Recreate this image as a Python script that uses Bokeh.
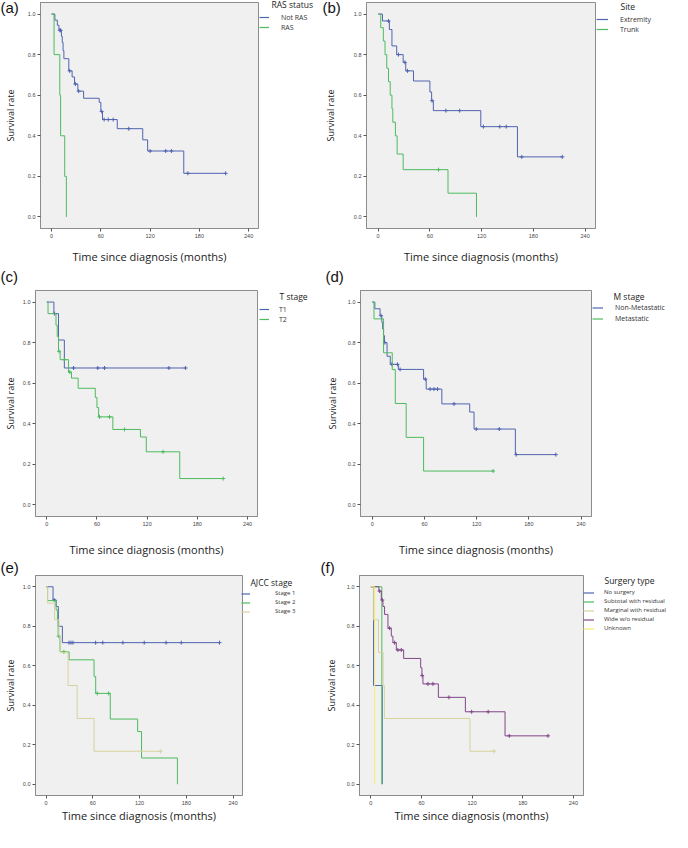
import numpy as np
from bokeh.plotting import figure
from bokeh.models import Label, Legend, LegendItem, FixedTicker, PrintfTickFormatter, Range1d
from bokeh.layouts import row, column
from bokeh.embed import file_html
from bokeh.resources import INLINE

# ---------------- data ----------------
x_ticks = [0, 60, 120, 180, 240]
y_ticks = [0.0, 0.2, 0.4, 0.6, 0.8, 1.0]
x_title = "Time since diagnosis (months)"
y_title = "Survival rate"

# (a) RAS status
a_title = "RAS status"
a_names = ["Not RAS", "RAS"]
a1_t = [0, 4, 7, 9, 12, 13, 14, 15, 21, 25, 28, 32, 39, 58, 60, 62, 80, 111, 117, 161]
a1_s = [1.0, 0.97, 0.945, 0.92, 0.89, 0.86, 0.82, 0.78, 0.72, 0.69, 0.655, 0.62, 0.585, 0.565, 0.52, 0.48, 0.435, 0.38, 0.325, 0.215]
a1_c = [10, 11, 22, 29, 33, 61, 64, 69, 75, 94, 120, 139, 146, 166, 212]
a2_t = [0, 3, 10, 11, 16, 18]
a2_s = [1.0, 0.8, 0.6, 0.4, 0.2, 0.0]
a2_c = []

# (b) Site
b_title = "Site"
b_names = ["Extremity", "Trunk"]
b1_t = [0, 5, 13, 16, 21.5, 29, 32, 41, 60, 62, 64, 119, 161.5]
b1_s = [1.0, 0.966, 0.924, 0.843, 0.80, 0.762, 0.72, 0.67, 0.616, 0.573, 0.524, 0.445, 0.296]
b1_c = [12, 23.5, 31, 34, 62.5, 78.5, 94.5, 122, 141, 148.5, 166.5, 213.5]
b2_t = [0, 3, 6, 8, 10, 12, 14, 16, 17, 20, 22, 29, 81, 114]
b2_s = [1.0, 0.933, 0.867, 0.80, 0.733, 0.667, 0.60, 0.533, 0.467, 0.40, 0.31, 0.233, 0.117, 0.0]
b2_c = [70]

# (c) T stage
c_title = "T stage"
c_names = ["T1", "T2"]
c1_t = [0, 8.5, 14, 21]
c1_s = [1.0, 0.943, 0.813, 0.675]
c1_c = [9.3, 32, 61, 69, 146, 166]
c2_t = [0, 1.5, 11, 12.5, 14, 16, 26, 29.5, 37.5, 58, 60, 62, 79, 112, 119, 159]
c2_s = [1.0, 0.943, 0.886, 0.83, 0.757, 0.716, 0.655, 0.625, 0.575, 0.53, 0.48, 0.434, 0.372, 0.335, 0.262, 0.13]
c2_c = [14.7, 21, 27.5, 63, 75, 93, 139, 211]

# (d) M stage
d_title = "M stage"
d_names = ["Non-Metastatic", "Metastatic"]
d1_t = [0, 3, 9, 11, 12, 13, 14, 17, 20.7, 30, 59, 62, 80, 112, 117, 164.5]
d1_s = [1.0, 0.967, 0.933, 0.9, 0.867, 0.835, 0.80, 0.733, 0.693, 0.668, 0.62, 0.571, 0.498, 0.458, 0.374, 0.248]
d1_c = [10, 14.5, 22.5, 29, 32, 61, 66.5, 71, 75, 94, 119.5, 146, 165.5, 211]
d2_t = [0, 2, 13, 23, 26.5, 39, 59]
d2_s = [1.0, 0.917, 0.75, 0.667, 0.5, 0.333, 0.167]
d2_c = [139]

# (e) AJCC stage
e_title = "AJCC stage"
e_names = ["Stage 1", "Stage 2", "Stage 3"]
e1_t = [0, 9, 13, 15.8, 21]
e1_s = [1.0, 0.933, 0.9, 0.8, 0.717]
e1_c = [10.5, 29.5, 32, 34.5, 63.6, 72.8, 98.6, 126, 154, 173.5, 222.5]
e2_t = [0, 2, 12.9, 14.6, 15.5, 18, 29.6, 61.6, 63.7, 82.4, 117.5, 122.5, 168.5]
e2_s = [1.0, 0.93, 0.883, 0.833, 0.75, 0.67, 0.63, 0.545, 0.46, 0.33, 0.267, 0.133, 0.0]
e2_c = [16.2, 22.9, 65.7, 80.3]
e3_t = [0, 2, 11, 16.6, 18.7, 28.3, 40, 61.6]
e3_s = [1.0, 0.917, 0.833, 0.75, 0.667, 0.5, 0.333, 0.167]
e3_c = [146.8]

# (f) Surgery type
f_title = "Surgery type"
f_names = ["No surgery", "Subtotal with residual", "Marginal with residual", "Wide w/o residual", "Unknown"]
f1_t = [0, 3.2, 13.5]
f1_s = [1.0, 0.5, 0.0]
f1_c = []
f2_t = [0, 13]
f2_s = [1.0, 0.0]
f2_c = []
f3_t = [0, 3, 9, 14.5, 16, 117.5]
f3_s = [1.0, 0.833, 0.667, 0.5, 0.333, 0.167]
f3_c = [146]
f4_t = [0, 9.5, 12.3, 14.3, 16.2, 20.2, 24.2, 26.1, 30.1, 38.8, 59, 60.5, 61.7, 80, 112, 159]
f4_s = [1.0, 0.978, 0.933, 0.9, 0.86, 0.79, 0.75, 0.717, 0.68, 0.637, 0.59, 0.55, 0.508, 0.44, 0.367, 0.245]
f4_c = [10.3, 13.5, 22.2, 28.1, 32, 36, 60.8, 67.6, 73.5, 92.5, 119.4, 139, 164, 210]
f5_t = [0, 4.4]
f5_s = [1.0, 0.0]
f5_c = []

# ---------------- style ----------------
BLUE = "#5064B0"
GREEN = "#4DBB5E"
KHAKI = "#D6D29C"
PURPLE = "#83468A"
YELLOW = "#F1EC72"

XR = (-13.5, 252.0)
YR = (-0.057, 1.057)
FONT = "Open Sans"
PAGE_W, PAGE_H = 672, 825


def step_xy(t, s, c):
    end = max([t[-1]] + list(c))
    xs, ys = [t[0]], [s[0]]
    for i in range(1, len(t)):
        xs += [t[i], t[i]]
        ys += [s[i - 1], s[i]]
    xs.append(end)
    ys.append(s[-1])
    return xs, ys


def censor_xy(t, s, c):
    if not c:
        return [], []
    idx = np.searchsorted(np.asarray(t, float), np.asarray(c, float), side="right") - 1
    return list(c), [s[i] for i in idx]


def make_panel(sp):
    x0, y0, x1, y1 = sp["fig"]
    L, T, R, B = sp["frame"]
    p = figure(width=x1 - x0, height=y1 - y0, x_range=XR, y_range=YR,
               output_backend="svg", toolbar_location=None,
               min_border_left=L - x0, min_border_right=x1 - R,
               min_border_top=T - y0, min_border_bottom=y1 - B)
    p.background_fill_color = "#F0F0F0"
    p.border_fill_color = "white"
    p.outline_line_color = "#8c8c8c"
    p.grid.visible = False
    p.xaxis.ticker = FixedTicker(ticks=x_ticks)
    p.yaxis.ticker = FixedTicker(ticks=y_ticks)
    p.yaxis.formatter = PrintfTickFormatter(format="%.1f")
    for ax in (p.xaxis[0], p.yaxis[0]):
        ax.axis_line_color = "#8c8c8c"
        ax.major_tick_in = 0
        ax.major_tick_out = 3
        ax.minor_tick_in = 0
        ax.minor_tick_out = 0
        ax.major_tick_line_color = "#555555"
        ax.major_label_text_font_size = "5.5px"
        ax.major_label_text_font = "Liberation Sans"
        ax.major_label_text_color = "#444444"
        ax.major_label_standoff = 2
        ax.axis_label_text_font = FONT
        ax.axis_label_text_font_style = "normal"
        ax.axis_label_text_color = "#222222"
    p.xaxis.axis_label = x_title
    p.xaxis.axis_label_text_font_size = "11px"
    p.xaxis.axis_label_standoff = sp["xs"]
    p.yaxis.axis_label = y_title
    p.yaxis.axis_label_text_font_size = "9px"
    p.yaxis.axis_label_standoff = sp["ys"]

    for name, color, t, s, c in sp["series"]:
        xs, ys = step_xy(t, s, c)
        p.line(xs, ys, line_color=color, line_width=1)
        cx, cy = censor_xy(t, s, c)
        if cx:
            p.scatter(cx, cy, marker="cross", size=4, line_color=color, line_width=1)
    return p


specs = [
    dict(fig=(8, 8, 328, 274), frame=(41, 10, 266, 238), xs=8, ys=8,
         series=[(a_names[0], BLUE, a1_t, a1_s, a1_c), (a_names[1], GREEN, a2_t, a2_s, a2_c)],
         legend=(267, 25, 10, 10, 12, "7px"), title=a_title, title_xy=(279, 12),
         tag="(a)", tag_xy=(8, 15)),
    dict(fig=(328, 8, 680, 274), frame=(373, 9, 603, 238), xs=8, ys=14,
         series=[(b_names[0], BLUE, b1_t, b1_s, b1_c), (b_names[1], GREEN, b2_t, b2_s, b2_c)],
         legend=(604, 27, 10, 12, 12, "7px"), title=b_title, title_xy=(628, 14),
         tag="(b)", tag_xy=(330, 14.5)),
    dict(fig=(8, 274, 328, 567), frame=(36, 298, 265, 527), xs=13, ys=3,
         series=[(c_names[0], BLUE, c1_t, c1_s, c1_c), (c_names[1], GREEN, c2_t, c2_s, c2_c)],
         legend=(267, 317, 10, 10, 10, "7px"), title=c_title, title_xy=(287, 304),
         tag="(c)", tag_xy=(8, 284)),
    dict(fig=(328, 274, 680, 567), frame=(368, 298, 599, 527), xs=13, ys=6,
         series=[(d_names[0], BLUE, d1_t, d1_s, d1_c), (d_names[1], GREEN, d2_t, d2_s, d2_c)],
         legend=(600, 315, 11, 11, 12, "7px"), title=d_title, title_xy=(621, 304),
         tag="(d)", tag_xy=(333, 284)),
    dict(fig=(8, 567, 328, 833), frame=(36, 583, 250, 806), xs=0, ys=3,
         series=[(e_names[0], BLUE, e1_t, e1_s, e1_c), (e_names[1], GREEN, e2_t, e2_s, e2_c),
                 (e_names[2], KHAKI, e3_t, e3_s, e3_c)],
         legend=(249, 601, 9, 9, 25, "6px"), title=e_title, title_xy=(258, 590),
         tag="(e)", tag_xy=(8, 575)),
    dict(fig=(328, 567, 680, 833), frame=(367, 583, 591, 806), xs=0, ys=6,
         series=[(f_names[0], BLUE, f1_t, f1_s, f1_c), (f_names[1], GREEN, f2_t, f2_s, f2_c),
                 (f_names[2], KHAKI, f3_t, f3_s, f3_c), (f_names[3], PURPLE, f4_t, f4_s, f4_c),
                 (f_names[4], YELLOW, f5_t, f5_s, f5_c)],
         legend=(591, 600, 9, 11, 10, "6px"), title=f_title, title_xy=(612, 588),
         tag="(f)", tag_xy=(328, 575)),
]

panels = [make_panel(sp) for sp in specs]

# transparent overlay holding the panel tags, legend titles and legends
ov = figure(width=PAGE_W, height=PAGE_H, x_range=Range1d(0, PAGE_W), y_range=Range1d(PAGE_H, 0),
            x_axis_type=None, y_axis_type=None, min_border=0, toolbar_location=None,
            output_backend="svg", margin=(-PAGE_H, 0, 0, 0))
ov.outline_line_color = None
ov.background_fill_alpha = 0
ov.border_fill_alpha = 0

for sp in specs:
    gl, first_c, ih, gw, so, fs = sp["legend"]
    items = []
    for name, color, t, s, c in sp["series"]:
        r = ov.line([np.nan], [np.nan], line_color=color, line_width=1.2)
        items.append(LegendItem(label=name, renderers=[r]))
    n = len(items)
    bottom = first_c - ih / 2 + n * ih
    leg = Legend(items=items, location=(gl - 8, PAGE_H - (bottom - 8)),
                 padding=0, margin=0, spacing=0,
                 border_line_color=None, background_fill_alpha=0,
                 glyph_width=gw, glyph_height=ih, label_height=ih,
                 label_standoff=so, label_text_font=FONT,
                 label_text_font_size=fs, label_text_color="#333333")
    ov.add_layout(leg)
    tx, ty = sp["title_xy"]
    ov.add_layout(Label(x=tx - 8, y=ty - 8, text=sp["title"], text_font=FONT,
                        text_font_size="8.5px", text_baseline="middle",
                        text_align="left", text_color="#222222"))
    gx, gy = sp["tag_xy"]
    ov.add_layout(Label(x=gx - 8, y=gy - 8, text=sp["tag"], text_font="Liberation Sans",
                        text_font_size="15px", text_baseline="middle",
                        text_align="left", text_color="#111111"))

layout = column(row(panels[0], panels[1]), row(panels[2], panels[3]),
                row(panels[4], panels[5]), ov)

open("out.html", "w").write(file_html(layout, INLINE))
